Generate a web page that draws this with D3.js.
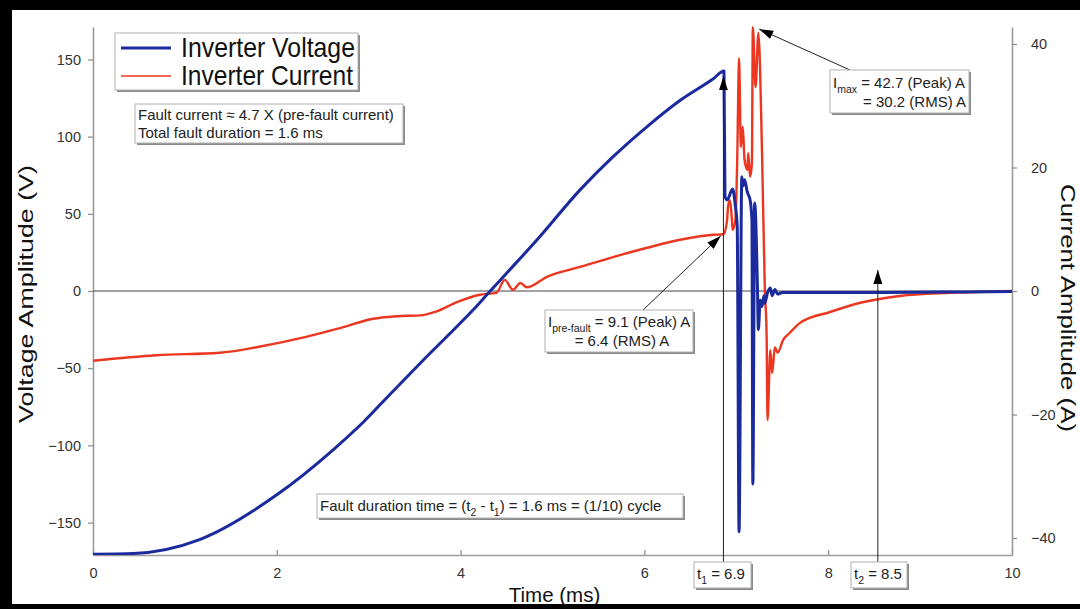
<!DOCTYPE html>
<html>
<head>
<meta charset="utf-8">
<script src="https://cdn.jsdelivr.net/npm/d3@7"></script>
<style>
  html, body { margin: 0; padding: 0; background: #000; }
  svg { display: block; font-family: "Liberation Sans", Arial, sans-serif; }
</style>
</head>
<body>
<div id="vis"></div>
<script>
// voltage trace (time in ms, volts)
const voltTime = [0, 0.44, 1.16, 2.0, 2.61, 2.94, 3.23, 3.59, 3.96, 4.14, 4.30, 4.5, 4.83, 5.3, 5.66, 6.03, 6.39, 6.75, 6.866,
  6.877, 6.90, 6.96, 6.99, 7.01, 7.03, 7.06, 7.07, 7.09, 7.12, 7.15, 7.17, 7.18, 7.20, 7.23, 7.24, 7.26, 7.28, 7.30,
  7.31, 7.34, 7.37, 7.39, 7.42, 7.45, 7.50, 8.0, 8.5, 9.0, 9.5, 10];
const voltage = [-170.5, -170, -161, -132, -103, -85, -67, -45, -23, -12, -1.5, 11.5, 33, 65.5, 87, 106.5, 123.5, 137.5, 142.5,
  61, 59, 66, 55, 42, -156, 74, 68, 72, 64, 59, 46, -125, 57, 3, -25, -6, -10, -3,
  -8, -1, 2, -3, 1, -2, -1, -1, -1, -0.8, -0.6, -0.4];

// current trace (time in ms, amps)
const currTime = [0, 0.69, 1.38, 1.78, 2.33, 2.69, 3.05, 3.3, 3.59, 3.74, 3.96, 4.21, 4.39, 4.48, 4.57, 4.65, 4.72, 4.94,
  5.3, 5.66, 6.03, 6.39, 6.75, 6.86, 6.90, 6.91, 6.93, 6.95, 6.96, 6.99, 7.01, 7.03, 7.05, 7.07, 7.09, 7.12, 7.13,
  7.15, 7.17, 7.18, 7.21, 7.24, 7.28, 7.31, 7.33, 7.34, 7.37, 7.39, 7.42, 7.45, 7.51, 7.58, 7.69, 8.02, 8.35,
  8.78, 9.33, 10];
const current = [-11.3, -10.4, -10.0, -9.1, -7.4, -6.0, -4.5, -4.1, -3.9, -3.3, -1.8, -0.6, -0.3, 1.8, 0.2, 1.3, 0.6, 2.3,
  3.9, 5.5, 7.0, 8.3, 9.1, 9.2, 11.5, 13.6, 14.7, 12.0, 9.9, 11.5, 21.2, 37.7, 23.3, 26.6, 21.2, 19.6, 22.3,
  18.5, 20.7, 42.7, 33.0, 41.8, 22.3, 0.6, -7.4, -20.9, -9.6, -13.3, -9.1, -10.0, -7.9, -6.8, -5.2, -3.4, -1.9,
  -0.8, -0.3, 0];

const seriesNames = ["Inverter Voltage", "Inverter Current"];
const timeTicks = [0, 2, 4, 6, 8, 10];
const voltTicks = [-150, -100, -50, 0, 50, 100, 150];
const currTicks = [-40, -20, 0, 20, 40];
const t1 = 6.86, t2 = 8.54;

const blue = "#1b2a9c", red = "#ec3620";

const W = 1080, H = 609;
const margin = { top: 27, right: 68, bottom: 54, left: 93 };
const width = W - margin.left - margin.right;
const height = H - margin.top - margin.bottom;

const root = d3.select("#vis").append("svg")
  .attr("width", W).attr("height", H);

// black frame round the figure
root.append("rect").attr("width", W).attr("height", H).attr("fill", "#000");
root.append("rect").attr("x", 12).attr("y", 10).attr("width", W - 12).attr("height", 594).attr("fill", "#fff");

const defs = root.append("defs");
defs.append("marker")
    .attr("id", "head")
    .attr("viewBox", "0 0 14 9")
    .attr("refX", 14).attr("refY", 4.5)
    .attr("markerWidth", 14).attr("markerHeight", 9)
    .attr("markerUnits", "userSpaceOnUse")
    .attr("orient", "auto")
  .append("path")
    .attr("d", "M0,0L14,4.5L0,9Z")
    .attr("fill", "#000");
defs.append("clipPath").attr("id", "plot")
  .append("rect").attr("x", 0).attr("y", -2).attr("width", width).attr("height", height + 2);

const svg = root.append("g")
  .attr("transform", `translate(${margin.left}, ${margin.top})`);

// scales
const x = d3.scaleLinear().domain([0, 10]).range([0, width]);
const yV = d3.scaleLinear().domain([-171, 171]).range([height, 0]);
const yI = d3.scaleLinear().domain([-42.75, 42.75]).range([height, 0]);

function styleAxis(g) {
  g.select(".domain").attr("stroke", "#9a9a9a").attr("stroke-width", 1.6);
  g.selectAll(".tick line").attr("stroke", "#8a8a8a").attr("stroke-width", 1.2);
  g.selectAll(".tick text").attr("fill", "#333").style("font-size", "14.5px")
    .style("font-family", "\"Liberation Sans\", Arial, sans-serif");
}

svg.append("g")
  .attr("transform", `translate(0, ${height})`)
  .call(d3.axisBottom(x).tickValues(timeTicks).tickSize(-5).tickSizeOuter(0).tickPadding(13))
  .call(styleAxis);
svg.append("g")
  .call(d3.axisLeft(yV).tickValues(voltTicks).tickSize(5).tickSizeOuter(0).tickPadding(7))
  .call(styleAxis);
svg.append("g")
  .attr("transform", `translate(${width}, 0)`)
  .call(d3.axisRight(yI).tickValues(currTicks).tickSize(5).tickSizeOuter(0).tickPadding(14))
  .call(styleAxis);

// zero line
svg.append("line")
  .attr("x1", 0).attr("x2", width)
  .attr("y1", yV(0)).attr("y2", yV(0))
  .attr("stroke", "#444").attr("stroke-width", 1);

// axis titles
svg.append("text")
  .attr("x", width / 2 + 2).attr("y", height + 47)
  .attr("text-anchor", "middle")
  .style("font-size", "20.5px").attr("fill", "#111")
  .text("Time (ms)");
svg.append("text")
  .attr("transform", `translate(${-60}, ${yV(0) + 3}) rotate(-90)`)
  .attr("text-anchor", "middle")
  .style("font-size", "21px").attr("fill", "#111")
  .attr("textLength", 258).attr("lengthAdjust", "spacingAndGlyphs")
  .text("Voltage Amplitude (V)");
svg.append("text")
  .attr("transform", `translate(${width + 49}, ${yV(0) + 17}) rotate(90)`)
  .attr("text-anchor", "middle")
  .style("font-size", "21px").attr("fill", "#111")
  .attr("textLength", 248).attr("lengthAdjust", "spacingAndGlyphs")
  .text("Current Amplitude (A)");

// traces
const voltData = voltTime.map((t, i) => [t, voltage[i]]);
const currData = currTime.map((t, i) => [t, current[i]]);

const plot = svg.append("g").attr("clip-path", "url(#plot)");
plot.append("path")
  .datum(currData)
  .attr("fill", "none").attr("stroke", red).attr("stroke-width", 2.4)
  .attr("stroke-linejoin", "round")
  .attr("d", d3.line().curve(d3.curveMonotoneX).x(d => x(d[0])).y(d => yI(d[1])));
plot.append("path")
  .datum(voltData)
  .attr("fill", "none").attr("stroke", blue).attr("stroke-width", 3)
  .attr("stroke-linejoin", "round")
  .attr("d", d3.line().curve(d3.curveMonotoneX).x(d => x(d[0])).y(d => yV(d[1])));

// boxes with a small drop shadow
function box(x0, y0, w, h) {
  svg.append("rect").attr("x", x0 + 2).attr("y", y0 + 2).attr("width", w).attr("height", h).attr("fill", "#8a8a8a");
  svg.append("rect").attr("x", x0).attr("y", y0).attr("width", w).attr("height", h)
    .attr("fill", "#fff").attr("stroke", "#b0b0b0").attr("stroke-width", 1);
}
// text made of plain strings and [subscript] parts
function rich(x0, y0, parts, anchor) {
  const t = svg.append("text").attr("x", x0).attr("y", y0)
    .attr("text-anchor", anchor || "start")
    .style("font-size", "15px").attr("fill", "#222");
  let shift = 0;
  parts.forEach(p => {
    const sub = Array.isArray(p);
    const s = sub ? p[0] : p;
    const dy = sub ? 5 - shift : -shift;
    shift = sub ? 5 : 0;
    t.append("tspan").attr("dy", dy).style("font-size", sub ? "10.5px" : "15px").text(s);
  });
  return t;
}
function arrow(xa, ya, xb, yb) {
  svg.append("line")
    .attr("x1", xa).attr("y1", ya).attr("x2", xb).attr("y2", yb)
    .attr("stroke", "#222").attr("stroke-width", 1)
    .attr("marker-end", "url(#head)");
}
const px = v => v - margin.left, py = v => v - margin.top;

// legend
box(px(115), py(33), 243, 57);
svg.append("line").attr("x1", px(121)).attr("x2", px(171)).attr("y1", py(48)).attr("y2", py(48))
  .attr("stroke", blue).attr("stroke-width", 3);
svg.append("line").attr("x1", px(121)).attr("x2", px(171)).attr("y1", py(76)).attr("y2", py(76))
  .attr("stroke", red).attr("stroke-width", 1.6);
seriesNames.forEach((name, i) => {
  svg.append("text")
    .attr("x", px(181)).attr("y", py(57 + i * 28))
    .style("font-size", "28px").attr("fill", "#111")
    .attr("textLength", i === 0 ? 174 : 172).attr("lengthAdjust", "spacingAndGlyphs")
    .text(name);
});

// summary box
box(px(135), py(104), 268, 39);
rich(px(138), py(120), ["Fault current \u2248 4.7 X (pre-fault current)"]);
rich(px(138), py(138), ["Total fault duration = 1.6 ms"]);

// peak current
arrow(px(850), py(70), x(7.25), yI(42.4));
box(px(830), py(70), 139, 43);
rich(px(833), py(88), ["I", ["max"], " = 42.7 (Peak) A"]);
rich(px(966), py(107), ["= 30.2 (RMS) A"], "end");

// pre-fault current
arrow(px(643), py(310), x(6.83), yI(8.9));
box(px(545), py(310), 148, 42);
rich(px(548), py(327), ["I", ["pre-fault"], " = 9.1 (Peak) A"]);
rich(px(622), py(346), ["= 6.4 (RMS) A"], "middle");

// fault duration
box(px(317), py(494), 366, 24);
rich(px(320), py(511), ["Fault duration time = (t", ["2"], " - t", ["1"], ") = 1.6 ms = (1/10) cycle"]);

// t1 / t2 markers
arrow(x(t1), py(562), x(t1), yV(139));
box(px(694), py(562), 57, 26);
rich(px(697), py(579), ["t", ["1"], " = 6.9"]);

arrow(x(t2), py(562), x(t2), yI(3.4));
box(px(851), py(562), 56, 26);
rich(px(854), py(579), ["t", ["2"], " = 8.5"]);
</script>
</body>
</html>
